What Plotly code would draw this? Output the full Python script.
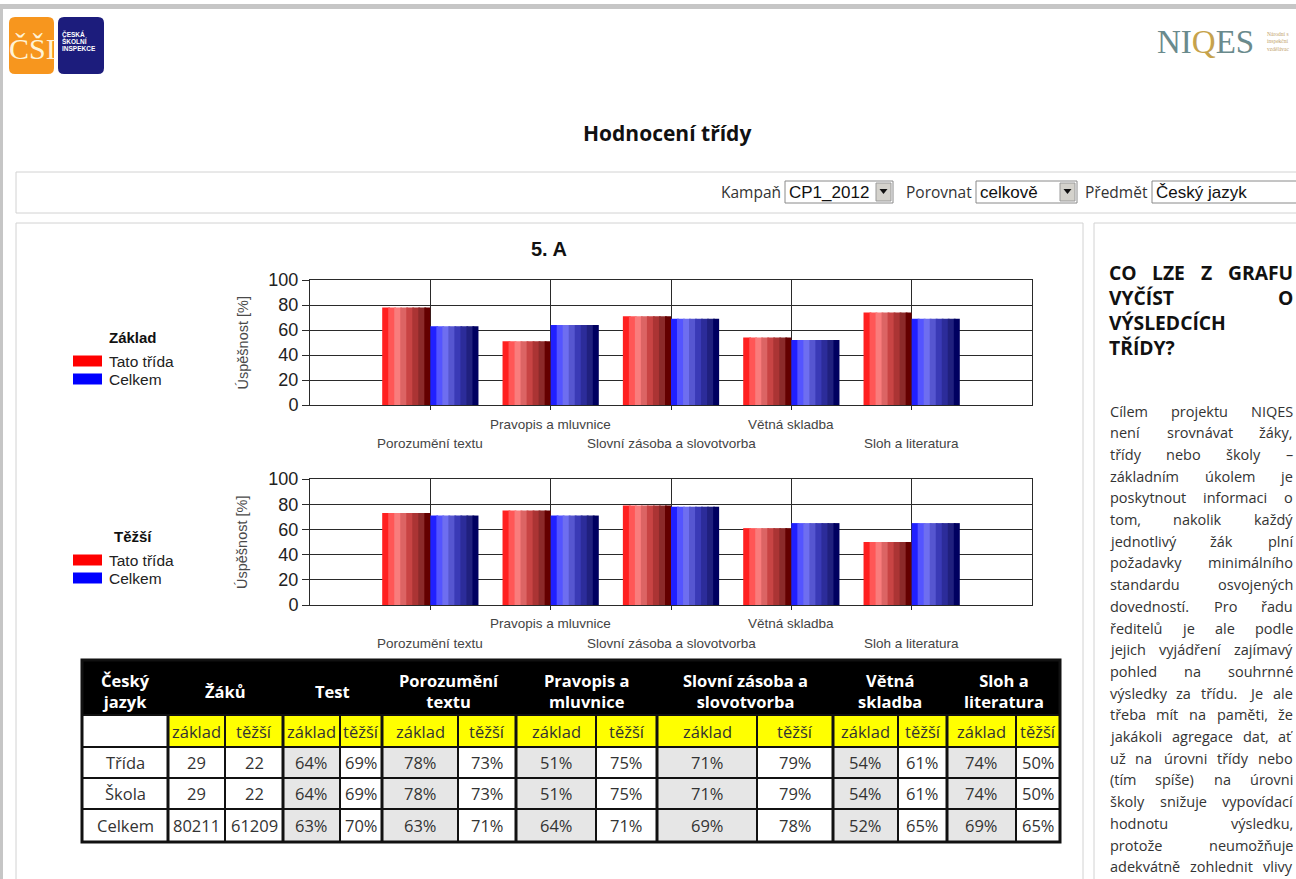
import plotly.graph_objects as go

W, H = 1296, 879


def X(p):
    return p / W


def Y(p):
    return 1 - p / H


# ---------------- data ----------------
categories = ["Porozumění textu", "Pravopis a mluvnice", "Slovní zásoba a slovotvorba",
              "Větná skladba", "Sloh a literatura"]
zaklad_trida = [78, 51, 71, 54, 74]
zaklad_celkem = [63, 64, 69, 52, 69]
tezsi_trida = [73, 75, 79, 61, 50]
tezsi_celkem = [71, 71, 78, 65, 65]
y_ticks = [0, 20, 40, 60, 80, 100]

table_groups = ["Český<br>jazyk", "Žáků", "Test", "Porozumění<br>textu", "Pravopis a<br>mluvnice",
                "Slovní zásoba a<br>slovotvorba", "Větná<br>skladba", "Sloh a<br>literatura"]
sub_headers = ["základ", "těžší"]
row_labels = ["Třída", "Škola", "Celkem"]
zaci_zaklad = ["29", "29", "80211"]
zaci_tezsi = ["22", "22", "61209"]
test_zaklad = [64, 64, 63]
test_tezsi = [69, 69, 70]
skola_zaklad = [78, 51, 71, 54, 74]
skola_tezsi = [73, 75, 79, 61, 50]

heading_lines = ["CO LZE Z GRAFU", "VYČÍST O", "VÝSLEDCÍCH", "TŘÍDY?"]
body_lines = [
    "Cílem projektu NIQES",
    "není srovnávat žáky,",
    "třídy nebo školy –",
    "základním úkolem je",
    "poskytnout informaci o",
    "tom, nakolik každý",
    "jednotlivý žák plní",
    "požadavky minimálního",
    "standardu osvojených",
    "dovedností. Pro řadu",
    "ředitelů je ale podle",
    "jejich vyjádření zajímavý",
    "pohled na souhrnné",
    "výsledky za třídu. Je ale",
    "třeba mít na paměti, že",
    "jakákoli agregace dat, ať",
    "už na úrovni třídy nebo",
    "(tím spíše) na úrovni",
    "školy snižuje vypovídací",
    "hodnotu výsledku,",
    "protože neumožňuje",
    "adekvátně zohlednit vlivy",
]

# ---------------- styles ----------------
red_shades = ["#ff2020", "#ff5656", "#f97c7c", "#dc6464", "#c84444", "#ab3434", "#8c2a2a", "#640000"]
blue_shades = ["#2020ff", "#5454ff", "#6e6ef0", "#5656d0", "#3a3ab6", "#2c2c9a", "#20207e", "#000060"]
CHART_FONT = "Liberation Sans"
PAGE_FONT = "Open Sans"
GRID = "#2a2a2a"
BORDER = "#d2d2d2"

fig = go.Figure()
cat_pos = list(range(1, len(categories) + 1))
BAR_W = 0.4


def add_bars(values, shades, left, xa, ya):
    n = len(shades)
    sw = BAR_W / n
    for k, c in enumerate(shades):
        off = (-BAR_W if left else 0) + k * sw
        w = sw * 1.3 if k < n - 1 else sw
        fig.add_trace(go.Bar(x=cat_pos, y=values, width=[w] * len(values), offset=off,
                             marker=dict(color=c, line=dict(width=0)),
                             xaxis=xa, yaxis=ya, showlegend=False, hoverinfo="skip"))


add_bars(zaklad_trida, red_shades, True, "x", "y")
add_bars(zaklad_celkem, blue_shades, False, "x", "y")
add_bars(tezsi_trida, red_shades, True, "x2", "y2")
add_bars(tezsi_celkem, blue_shades, False, "x2", "y2")

PLOT_X = (310, 1032)
TOP_Y = (280, 405)
BOT_Y = (479, 605)


def xaxis(anchor):
    return dict(domain=[X(PLOT_X[0]), X(PLOT_X[1])], anchor=anchor, range=[0, len(categories) + 1],
                tickvals=cat_pos, showticklabels=False, showgrid=True, gridcolor=GRID, gridwidth=1,
                showline=True, linecolor=GRID, linewidth=1, mirror=True, ticks="outside", ticklen=4,
                tickcolor=GRID, zeroline=False, fixedrange=True, automargin=False)


def yaxis(anchor, yr):
    return dict(domain=[Y(yr[1]), Y(yr[0])], anchor=anchor, range=[0, 100], tickvals=y_ticks,
                showgrid=True, gridcolor=GRID, gridwidth=1, showline=True, linecolor=GRID, linewidth=1,
                mirror=True, ticks="outside", ticklen=7, tickcolor=GRID,
                tickfont=dict(family=CHART_FONT, size=18, color="#222"), zeroline=False, fixedrange=True,
                automargin=False)


shapes = []
annotations = []


def rect(x0, y0, x1, y1, fill=None, line=None, lw=1, layer="below"):
    shapes.append(dict(type="rect", xref="paper", yref="paper", x0=X(x0), x1=X(x1), y0=Y(y1), y1=Y(y0),
                       fillcolor=fill if fill else "rgba(0,0,0,0)",
                       line=dict(color=line if line else "rgba(0,0,0,0)", width=lw if line else 0),
                       layer=layer))


def hline(x0, x1, y, color, lw):
    shapes.append(dict(type="line", xref="paper", yref="paper", x0=X(x0), x1=X(x1), y0=Y(y), y1=Y(y),
                       line=dict(color=color, width=lw)))


def vline(x, y0, y1, color, lw):
    shapes.append(dict(type="line", xref="paper", yref="paper", x0=X(x), x1=X(x), y0=Y(y0), y1=Y(y1),
                       line=dict(color=color, width=lw)))


def text(x, y, s, size, color="#222", family=PAGE_FONT, anchor="center", bold=False, angle=0, xref="paper"):
    if bold:
        s = "<b>" + s + "</b>"
    annotations.append(dict(x=X(x) if xref == "paper" else x, y=Y(y), xref=xref, yref="paper", text=s,
                            showarrow=False, xanchor=anchor, yanchor="middle", textangle=angle,
                            font=dict(family=family, size=size, color=color), borderpad=0))


def rounded_path(x0, y0, x1, y1, r):
    pts = [
        f"M {X(x0 + r)},{Y(y0)}", f"L {X(x1 - r)},{Y(y0)}", f"Q {X(x1)},{Y(y0)} {X(x1)},{Y(y0 + r)}",
        f"L {X(x1)},{Y(y1 - r)}", f"Q {X(x1)},{Y(y1)} {X(x1 - r)},{Y(y1)}", f"L {X(x0 + r)},{Y(y1)}",
        f"Q {X(x0)},{Y(y1)} {X(x0)},{Y(y1 - r)}", f"L {X(x0)},{Y(y0 + r)}",
        f"Q {X(x0)},{Y(y0)} {X(x0 + r)},{Y(y0)} Z"]
    return " ".join(pts)


# ---------------- page frame ----------------
rect(0, 4, W, 9, fill="#c6c6c6")
rect(0, 4, 3, H, fill="#c6c6c6")
rect(16, 172, W + 10, 213, line=BORDER)
rect(16, 223, 1083, H + 10, line=BORDER)
rect(1094, 223, W + 10, H + 10, line=BORDER)

# logos
shapes.append(dict(type="path", xref="paper", yref="paper", path=rounded_path(9, 17, 54, 74, 6),
                   fillcolor="#f7961e", line=dict(width=0), layer="below"))
shapes.append(dict(type="path", xref="paper", yref="paper", path=rounded_path(58, 17, 104, 74, 6),
                   fillcolor="#1c1c7c", line=dict(width=0), layer="below"))
text(32, 48, "ČŠI", 30, color="#fff3d6", family="Liberation Sans Narrow")
for i, s in enumerate(["ČESKÁ", "ŠKOLNÍ", "INSPEKCE"]):
    text(61, 34 + 7.5 * i, s, 6.5, color="#ffffff", family="Liberation Sans", anchor="left", bold=True)
text(1156, 42, "NI<span style='color:#c6a24c'>Q</span>ES", 33, color="#6a8a8c", family="Liberation Serif",
     anchor="left")
for i, s in enumerate(["Národní s", "inspekční", "vzdělávac"]):
    text(1266, 34 + 7.5 * i, s, 5.5, color="#c2a26a", family="Liberation Serif", anchor="left")

# title
text(667, 133, "Hodnocení třídy", 21, color="#111", bold=True)


# filter bar
def select_box(x0, x1, label, value, label_right):
    rect(x0, 181, x1, 203, fill="#ffffff", line="#8a8a8a", lw=1)
    text(label_right, 192, label, 15.5, color="#333", anchor="right")
    text(x0 + 3, 192, value, 17, color="#111", family="Liberation Sans", anchor="left")
    if x1 < W:
        rect(x1 - 17, 183, x1 - 2, 201, fill="#d4d2cc", line="#9a9a9a", lw=1)
        cx = x1 - 9.5
        shapes.append(dict(type="path", xref="paper", yref="paper",
                           path=f"M {X(cx - 4)},{Y(189)} L {X(cx + 4)},{Y(189)} L {X(cx)},{Y(194)} Z",
                           fillcolor="#111", line=dict(width=0)))


select_box(785, 893, "Kampaň", "CP1_2012", 782)
select_box(976, 1077, "Porovnat", "celkově", 973)
select_box(1152, W + 40, "Předmět", "Český jazyk", 1149)

# chart title
text(549, 249, "5. A", 20, color="#111", family=CHART_FONT, bold=True)


# legends and chart labels
def chart_decor(plot_y, title, xa, label_rows):
    yc = (plot_y[0] + plot_y[1]) / 2
    text(242, yc, "Úspěšnost [%]", 14.5, color="#4a4a4a", family=CHART_FONT, angle=-90)
    ty = plot_y[0] + 57
    text(133, ty, title, 15, color="#111", family=CHART_FONT, bold=True)
    for i, (nm, col) in enumerate([("Tato třída", "#ff0000"), ("Celkem", "#0000ff")]):
        ey = ty + 24 + 18 * i
        rect(73, ey - 5.5, 102, ey + 5.5, fill=col)
        text(108, ey, nm, 15.5, color="#222", family=CHART_FONT, anchor="left")
    for i, c in enumerate(categories):
        yy = label_rows[0] if i % 2 == 1 else label_rows[1]
        annotations.append(dict(x=cat_pos[i], y=Y(yy), xref=xa, yref="paper", text=c, showarrow=False,
                                xanchor="center", yanchor="middle",
                                font=dict(family=CHART_FONT, size=13.5, color="#444")))


chart_decor(TOP_Y, "Základ", "x", (425, 443))
chart_decor(BOT_Y, "Těžší", "x2", (623, 643))

# ---------------- table ----------------
col_widths = [86, 57, 58, 57, 42, 76, 58, 80, 61, 100, 76, 65, 49, 69, 44]
row_edges = [660, 715, 747, 778, 809, 842]
TX0 = 82
col_edges = [TX0]
for w in col_widths:
    col_edges.append(col_edges[-1] + w)
group_cols = [[0]] + [[1 + 2 * g, 2 + 2 * g] for g in range(7)]

rect(col_edges[0], row_edges[0], col_edges[-1], row_edges[1], fill="#000000")
for c in range(len(col_widths)):
    for r in range(1, 5):
        if r == 1:
            fill = "#ffffff" if c == 0 else "#ffff00"
        else:
            fill = "#e6e6e6" if (c >= 3 and c % 2 == 1) else "#ffffff"
        rect(col_edges[c], row_edges[r], col_edges[c + 1], row_edges[r + 1], fill=fill)

group_bounds = set(col_edges[g[0]] for g in group_cols)
for xe in col_edges[1:-1]:
    vline(xe, row_edges[1], row_edges[-1], "#111", 3 if xe in group_bounds else 2)
for ye in row_edges[1:-1]:
    hline(col_edges[0], col_edges[-1], ye, "#111", 2)
rect(col_edges[0], row_edges[0], col_edges[-1], row_edges[-1], line="#111", lw=3, layer="above")

for g, cols in enumerate(group_cols):
    cx = (col_edges[cols[0]] + col_edges[cols[-1] + 1]) / 2
    text(cx, 691, table_groups[g], 16.5, color="#ffffff", bold=True)
for c in range(1, len(col_widths)):
    cx = (col_edges[c] + col_edges[c + 1]) / 2
    text(cx, 731, sub_headers[(c - 1) % 2], 16.5, color="#333")

rows_data = []
for r in range(3):
    if r == 0:
        zv, tv = zaklad_trida, tezsi_trida
    elif r == 1:
        zv, tv = skola_zaklad, skola_tezsi
    else:
        zv, tv = zaklad_celkem, tezsi_celkem
    vals = [row_labels[r], zaci_zaklad[r], zaci_tezsi[r], f"{test_zaklad[r]}%", f"{test_tezsi[r]}%"]
    for a in range(len(categories)):
        vals += [f"{zv[a]}%", f"{tv[a]}%"]
    rows_data.append(vals)

for r, vals in enumerate(rows_data):
    cy = (row_edges[r + 2] + row_edges[r + 3]) / 2
    for c, v in enumerate(vals):
        cx = (col_edges[c] + col_edges[c + 1]) / 2
        text(cx, cy, v, 16.5, color="#333")

# ---------------- right panel text ----------------
OS_W = {" ": 260, "a": 556, "á": 556, "b": 613, "c": 480, "č": 480, "d": 613, "e": 561, "é": 561,
        "ě": 561, "f": 336, "g": 546, "h": 613, "i": 258, "í": 258, "j": 258, "k": 529, "l": 258,
        "m": 930, "n": 613, "ň": 613, "o": 604, "ó": 604, "p": 613, "q": 613, "r": 408, "ř": 408,
        "s": 479, "š": 479, "t": 353, "ť": 390, "u": 613, "ú": 613, "ů": 613, "v": 500, "w": 778,
        "x": 523, "y": 500, "ý": 500, "z": 469, "ž": 469, ",": 250, ".": 266, "(": 296, ")": 296,
        "–": 500, "?": 429, "A": 633, "C": 631, "Č": 631, "D": 729, "E": 556, "F": 516, "G": 728,
        "I": 279, "Í": 279, "L": 519, "N": 754, "O": 779, "P": 602, "Q": 779, "R": 618, "Ř": 618,
        "S": 549, "T": 553, "U": 728, "V": 595, "Y": 560, "Ý": 560, "Z": 571, "H": 738, "K": 614}


def tw(s, size, bold=False):
    w = sum(OS_W.get(ch, 560) for ch in s) / 1000 * size
    return w * (1.08 if bold else 1.0)


def justify(line, x0, x1, y, size, bold, color, do_justify=True):
    words = line.split(" ")
    if len(words) == 1 or not do_justify:
        text(x0, y, line, size, color=color, anchor="left", bold=bold)
        return
    widths = [tw(w, size, bold) for w in words]
    gap = (x1 - x0 - sum(widths)) / (len(words) - 1)
    x = x0
    for i, (w, wd) in enumerate(zip(words, widths)):
        if i == 0:
            text(x0, y, w, size, color=color, anchor="left", bold=bold)
        elif i == len(words) - 1:
            text(x1, y, w, size, color=color, anchor="right", bold=bold)
        else:
            text(x + wd / 2, y, w, size, color=color, anchor="center", bold=bold)
        x += wd + gap


for i, ln in enumerate(heading_lines):
    justify(ln, 1108, 1294, 272 + 25.3 * i, 19.3, True, "#111", do_justify=(i < 2))
for i, ln in enumerate(body_lines):
    justify(ln, 1109, 1294, 411 + 21.7 * i, 14.5, False, "#333")

fig.update_layout(
    template="none",
    width=W, height=H, margin=dict(l=0, r=0, t=0, b=0, pad=0, autoexpand=False),
    paper_bgcolor="#ffffff", plot_bgcolor="#ffffff", barmode="overlay", showlegend=False,
    xaxis=xaxis("y"), yaxis=yaxis("x", TOP_Y), xaxis2=xaxis("y2"), yaxis2=yaxis("x2", BOT_Y),
    shapes=shapes, annotations=annotations,
)

fig.write_html("out.html", config={"displayModeBar": False},
               post_script="document.body.style.margin='0';document.body.style.overflow='hidden';")
